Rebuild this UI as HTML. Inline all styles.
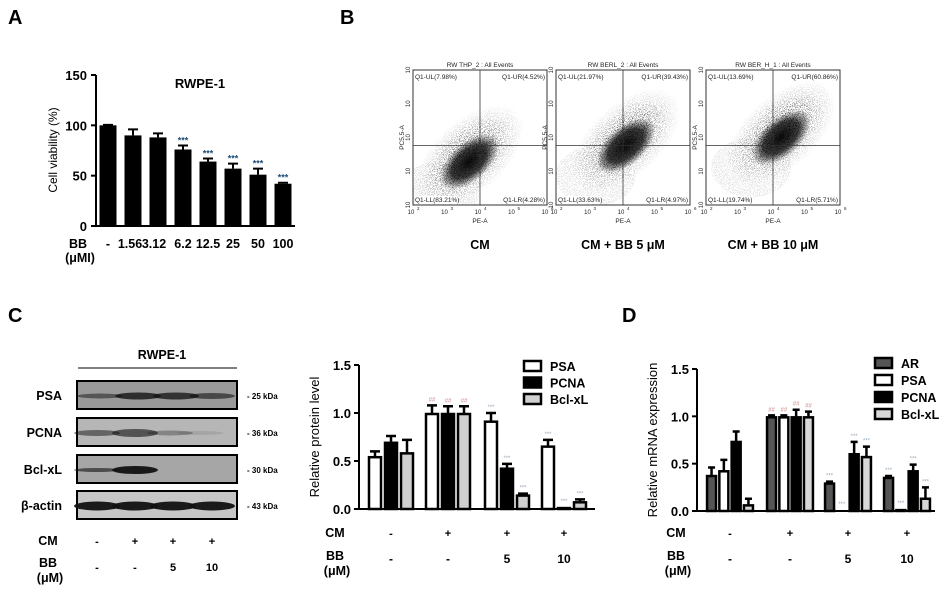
<!DOCTYPE html>
<html><head><meta charset="utf-8">
<style>
body{margin:0;background:#fff;}
svg{display:block;font-family:"Liberation Sans",Arial,sans-serif;}
.b{font-weight:bold;}
</style></head>
<body>
<svg id="fig" width="945" height="593" viewBox="0 0 945 593" xmlns="http://www.w3.org/2000/svg">
<defs>
<radialGradient id="mgrad" cx="50%" cy="50%" r="50%">
<stop offset="0" stop-color="#fff" stop-opacity="1"/>
<stop offset="0.45" stop-color="#fff" stop-opacity="0.6"/>
<stop offset="0.75" stop-color="#fff" stop-opacity="0.22"/>
<stop offset="1" stop-color="#fff" stop-opacity="0"/>
</radialGradient>
<radialGradient id="core" cx="50%" cy="50%" r="50%">
<stop offset="0" stop-color="#000" stop-opacity="0.95"/>
<stop offset="0.6" stop-color="#000" stop-opacity="0.75"/>
<stop offset="1" stop-color="#000" stop-opacity="0"/>
</radialGradient>
<filter id="speck" x="0" y="0" width="100%" height="100%">
<feTurbulence type="fractalNoise" baseFrequency="1.3" numOctaves="2" seed="5"/>
<feColorMatrix type="matrix" values="0 0 0 0 0  0 0 0 0 0  0 0 0 0 0  1.6 0 0 0 -0.25"/>
<feComponentTransfer><feFuncA type="discrete" tableValues="0 0 0 0 0.9 1"/></feComponentTransfer>
</filter>
</defs>
<text x="8" y="24" font-size="20" class="b">A</text>
<text x="340" y="24" font-size="20" class="b">B</text>
<text x="8" y="322" font-size="20" class="b">C</text>
<text x="622" y="322" font-size="20" class="b">D</text>

<g id="pa"></g>
<g id="pb"></g>
<g id="pc"></g>
<g id="pc2"></g>
<g id="pd"></g>
</svg>
<script>
// ---- Panel A data
const aCats = ["-","1.56","3.12","6.2","12.5","25","50","100"];
const aVals = [100,90,88,76,64,57,51,42];
const aErrs = [0.5,6,4,4,3,5,6,1];
const aStars = [false,false,false,true,true,true,true,true];
const aTicks = [0,50,100,150];
// ---- Panel C chart data
const cGroupsCM = ["-","+","+","+"];
const cGroupsBB = ["-","-","5","10"];
const cSeries = ["PSA","PCNA","Bcl-xL"];
const cPSA = [0.55,1.0,0.92,0.66];
const cPCNA = [0.70,1.0,0.43,0.02];
const cBcl = [0.59,1.0,0.15,0.08];
const cPSAErr = [0.05,0.08,0.08,0.06];
const cPCNAErr = [0.06,0.07,0.04,0.0];
const cBclErr = [0.13,0.07,0.01,0.02];
const cTicks = ["0.0","0.5","1.0","1.5"];
// ---- Panel D data
const dSeries = ["AR","PSA","PCNA","Bcl-xL"];
const dAR = [0.38,1.0,0.30,0.36];
const dPSA = [0.43,1.0,0.01,0.02];
const dPCNA = [0.74,1.0,0.61,0.43];
const dBcl = [0.07,1.0,0.58,0.14];
const dARErr = [0.08,0.01,0.01,0.01];
const dPSAErr = [0.11,0.01,0,0];
const dPCNAErr = [0.10,0.07,0.12,0.06];
const dBclErr = [0.06,0.05,0.10,0.11];
// ---- Panel B data
const bTitles = ["RW THP_2 : All Events","RW BERL_2 : All Events","RW BER_H_1 : All Events"];
const bUL = ["7.98","21.97","13.69"];
const bUR = ["4.52","39.43","60.86"];
const bLL = ["83.21","33.63","19.74"];
const bLR = ["4.28","4.97","5.71"];
const bCaps = ["CM","CM + BB 5 μM","CM + BB 10 μM"];

const NS="http://www.w3.org/2000/svg";
function mk(p,tag,at,txt){const e=document.createElementNS(NS,tag);for(const k in at)e.setAttribute(k,at[k]);if(txt!==undefined)e.textContent=txt;p.appendChild(e);return e;}

// ===== Panel A
(function(){
const g=document.getElementById('pa');
const x0=96,y0=226,yTop=75;
const ys=v=>y0-(v/150)*(y0-yTop);
const xc=i=>108+i*25;
let ax=mk(g,'path',{d:`M${x0} ${yTop}V${y0}H295`,stroke:'#000','stroke-width':2,fill:'none'});

aTicks.forEach(t=>{
 let l=mk(g,'line',{x1:x0-5,x2:x0,y1:ys(t),y2:ys(t),stroke:'#000','stroke-width':2});
 
 let tx=mk(g,'text',{x:x0-9,y:ys(t)+5,'text-anchor':'end','font-size':13,class:'b'},t);
 
});
aVals.forEach((v,i)=>{
 const x=xc(i);
 let e=mk(g,'path',{d:`M${x} ${ys(v)}V${ys(v+aErrs[i])}M${x-5} ${ys(v+aErrs[i])}H${x+5}`,stroke:'#000','stroke-width':2});
 
 let r=mk(g,'rect',{x:x-8.5,y:ys(v),width:17,height:y0-ys(v),fill:'#000'});
 
 if(aStars[i]){let s=mk(g,'text',{x:x,y:ys(v+aErrs[i])-2,'text-anchor':'middle','font-size':9,fill:'#1f4e79',class:'b'},'***');
  }
 let c=mk(g,'text',{x:i==1?x-3:(i==2?x-4:x),y:248,'text-anchor':'middle','font-size':12.5,class:'b'},aCats[i]);
 
});
let t=mk(g,'text',{x:200,y:88,'text-anchor':'middle','font-size':13,class:'b'},'RWPE-1');
let yl=mk(g,'text',{x:0,y:0,transform:'translate(57,150) rotate(-90)','text-anchor':'middle','font-size':12},'Cell viability  (%)');
let bb=mk(g,'text',{x:78,y:248,'text-anchor':'middle','font-size':12.5,class:'b'},'BB');
let um=mk(g,'text',{x:80,y:262,'text-anchor':'middle','font-size':12.5,class:'b'},'(μMI)');
})();

// ===== Panel B
(function(){
const g=document.getElementById('pb');
const defs=document.querySelector('defs');
const lefts=[413,556,706];
bTitles.forEach((ttl,k)=>{
 const L=lefts[k],T=70,W=134,H=135;
 const sub=mk(g,'g',{});
 
 const cx=[L+W*0.42,L+W*0.52,L+W*0.56][k], cy=[T+H*0.68,T+H*0.56,T+H*0.50][k];
 const m=mk(defs,'mask',{id:'fm'+k,maskUnits:'userSpaceOnUse',x:L,y:T,width:W,height:H});
 mk(m,'ellipse',{cx:cx+4,cy:cy-4,rx:66,ry:36,fill:'url(#mgrad)',transform:`rotate(-42 ${cx} ${cy})`});
 mk(m,'ellipse',{cx:cx-30,cy:cy+30,rx:40,ry:30,fill:'#fff',opacity:0.15});
 const cg=mk(sub,'g',{mask:`url(#fm${k})`});
 mk(cg,'rect',{x:L,y:T,width:W,height:H,fill:'#fff',filter:'url(#speck)'});
 mk(sub,'ellipse',{cx:cx,cy:cy,rx:36,ry:19,fill:'url(#core)',transform:`rotate(-42 ${cx} ${cy})`});
 mk(sub,'rect',{x:L,y:T,width:W,height:H,fill:'none',stroke:'#333','stroke-width':1});
 const vx=L+W/2, hy=T+H*0.56;
 mk(sub,'line',{x1:vx,x2:vx,y1:T,y2:T+H,stroke:'#333','stroke-width':0.8});
 mk(sub,'line',{x1:L,x2:L+W,y1:hy,y2:hy,stroke:'#333','stroke-width':0.8});
 const fs=6.5;
 mk(sub,'text',{x:L+W/2,y:T-3,'text-anchor':'middle','font-size':fs,fill:'#222'},ttl);
 const lab=(x,y,a,s)=>{mk(sub,'rect',{x:a=='end'?x-s.length*3.3:x,y:y-6,width:s.length*3.3,height:8,fill:'#fff'});mk(sub,'text',{x:x,y:y,'text-anchor':a,'font-size':fs,fill:'#222'},s);};
 lab(L+2,T+9,'start','Q1-UL('+bUL[k]+'%)');
 lab(L+W-2,T+9,'end','Q1-UR('+bUR[k]+'%)');
 lab(L+2,T+H-3,'start','Q1-LL('+bLL[k]+'%)');
 lab(L+W-2,T+H-3,'end','Q1-LR('+bLR[k]+'%)');
 for(let i=0;i<5;i++){
  const xx=L+i*W/4;
  mk(sub,'text',{x:xx-2,y:T+H+9,'text-anchor':'middle','font-size':6,fill:'#222'},'10');
  mk(sub,'text',{x:xx+4,y:T+H+5,'font-size':4.5,fill:'#222'},String(i+2));
  const yy=T+H-i*H/4;
  mk(sub,'text',{x:0,y:0,transform:`translate(${L-3},${yy}) rotate(-90)`,'text-anchor':'middle','font-size':6,fill:'#222'},'10');
 }
 mk(sub,'text',{x:L+W/2,y:T+H+18,'text-anchor':'middle','font-size':6.5,fill:'#222'},'PE-A');
 mk(sub,'text',{x:0,y:0,transform:`translate(${L-9},${T+H/2}) rotate(-90)`,'text-anchor':'middle','font-size':6.5,fill:'#222'},'PC5.5-A');
 let cap=mk(g,'text',{x:L+W/2,y:249,'text-anchor':'middle','font-size':12.5,class:'b'},bCaps[k]);
 
});
})();

// ===== Panel C blots
(function(){
const g=document.getElementById('pc');
let t=mk(g,'text',{x:162,y:359,'text-anchor':'middle','font-size':12.5,class:'b'},'RWPE-1');
mk(g,'line',{x1:78,x2:237,y1:368,y2:368,stroke:'#000','stroke-width':1});
const names=['PSA','PCNA','Bcl-xL','β-actin'];
const kda=['- 25 kDa','- 36 kDa','- 30 kDa','- 43 kDa'];
const tops=[381,418,455,491];
const bgs=['#999','#b6b6b6','#a6a6a6','#c6c6c6'];
const bands=[
 [[100,0.5,2.5],[138,0.8,3.5],[176,0.75,3.5],[212,0.6,3]],
 [[97,0.5,3],[135,0.6,4],[170,0.3,2.5],[200,0.1,2]],
 [[97,0.6,2],[135,0.95,4],[173,0,0],[212,0,0]],
 [[97,0.95,4.5],[135,0.95,4.5],[173,0.95,4.5],[212,0.95,4.5]]];
names.forEach((n,i)=>{
 const bg=mk(g,'g',{});
 
 mk(bg,'rect',{x:77,y:tops[i],width:160,height:28,fill:bgs[i],stroke:'#000','stroke-width':2});
 bands[i].forEach(b=>{if(b[1]>0)mk(bg,'ellipse',{cx:b[0],cy:tops[i]+15,rx:23,ry:b[2],fill:'#111',opacity:b[1]});});
 mk(g,'text',{x:62,y:tops[i]+19,'text-anchor':'end','font-size':12.5,class:'b'},n);
 mk(g,'text',{x:247,y:tops[i]+18,'font-size':8,class:'b'},kda[i]);
});
const lanes=[97,135,173,212];
mk(g,'text',{x:48,y:545,'text-anchor':'middle','font-size':12.5,class:'b'},'CM');
mk(g,'text',{x:48,y:567,'text-anchor':'middle','font-size':12.5,class:'b'},'BB');
mk(g,'text',{x:50,y:582,'text-anchor':'middle','font-size':12.5,class:'b'},'(μM)');
lanes.forEach((x,i)=>{mk(g,'text',{x:x,y:545,'text-anchor':'middle','font-size':11,class:'b'},cGroupsCM[i]);mk(g,'text',{x:x,y:571,'text-anchor':'middle','font-size':11,class:'b'},cGroupsBB[i]);});
})();

// ===== grouped bar helper
function grouped(g,prefix,cfg){
 const ys=v=>cfg.y0-(v/1.5)*(cfg.y0-cfg.yTop);
 let ax=mk(g,'path',{d:`M${cfg.x0} ${cfg.yTop}V${cfg.y0}H${cfg.xEnd}`,stroke:'#000','stroke-width':2,fill:'none'});
 
 cfg.ticks.forEach(t=>{
  const v=parseFloat(t);
  mk(g,'line',{x1:cfg.x0-5,x2:cfg.x0,y1:ys(v),y2:ys(v),stroke:'#000','stroke-width':2});
  let tx=mk(g,'text',{x:cfg.x0-8,y:ys(v)+5,'text-anchor':'end','font-size':13,class:'b'},t);
  
 });
 const ns=cfg.series.length;
 for(let gi=0;gi<4;gi++){
  for(let s=0;s<ns;s++){
   const v=cfg.vals[s][gi],e=cfg.errs[s][gi];
   const x=cfg.gx[gi]+(s-(ns-1)/2)*cfg.step;
   const hw=cfg.bw/2;
   if(e>0){let eb=mk(g,'path',{d:`M${x} ${ys(v)}V${ys(v+e)}M${x-hw+2} ${ys(v+e)}H${x+hw-2}`,stroke:'#000','stroke-width':2.5});
    }
   let r=mk(g,'rect',{x:x-hw+1,y:ys(v)+1,width:cfg.bw-2,height:Math.max(0,cfg.y0-ys(v)-1),fill:cfg.fills[s],stroke:'#000','stroke-width':2.5});
   
   if(gi>0){let m=mk(g,'text',{x:x,y:ys(v+e)-4,'text-anchor':'middle','font-size':6,fill:gi==1?'#c88':'#9ab'},gi==1?'##':'***');
    }
  }
  let c=mk(g,'text',{x:cfg.gx[gi],y:537,'text-anchor':'middle','font-size':11,class:'b'},cGroupsCM[gi]);
  
  let b=mk(g,'text',{x:cfg.gx[gi],y:563,'text-anchor':'middle','font-size':12,class:'b'},cGroupsBB[gi]);
  
 }
 mk(g,'text',{x:cfg.lx,y:537,'text-anchor':'middle','font-size':12.5,class:'b'},'CM');
 mk(g,'text',{x:cfg.lx,y:560,'text-anchor':'middle','font-size':12.5,class:'b'},'BB');
 mk(g,'text',{x:cfg.lx+2,y:575,'text-anchor':'middle','font-size':12.5,class:'b'},'(μM)');
 let yl=mk(g,'text',{x:0,y:0,transform:`translate(${cfg.x0-40},${(cfg.y0+cfg.yTop)/2}) rotate(-90)`,'text-anchor':'middle','font-size':13},cfg.ylabel);
 
 cfg.series.forEach((s,i)=>{
  const ly=cfg.legY+i*cfg.legStep;
  let lr=mk(g,'rect',{x:cfg.legX,y:ly-5,width:17,height:10,fill:cfg.fills[i],stroke:'#000','stroke-width':2.5});
  
  let lt=mk(g,'text',{x:cfg.legX+26,y:ly+5,'font-size':12.5,class:'b'},s);
  
 });
}
grouped(document.getElementById('pc2'),'c',{x0:359,y0:509,yTop:365,xEnd:595,ticks:cTicks,series:cSeries,
 vals:[cPSA,cPCNA,cBcl],errs:[cPSAErr,cPCNAErr,cBclErr],fills:['#fff','#000','#d0d0d0'],
 gx:[391,448,507,564],step:16,bw:14,lx:335,ylabel:'Relative protein level',legX:524,legY:366,legStep:16.5});
grouped(document.getElementById('pd'),'d',{x0:697,y0:511,yTop:369,xEnd:935,ticks:cTicks,series:dSeries,
 vals:[dAR,dPSA,dPCNA,dBcl],errs:[dARErr,dPSAErr,dPCNAErr,dBclErr],fills:['#555','#fff','#000','#d8d8d8'],
 gx:[730,790,848,907],step:12.3,bw:11,lx:676,ylabel:'Relative mRNA expression',legX:875,legY:363,legStep:17});
</script>
</body></html>
